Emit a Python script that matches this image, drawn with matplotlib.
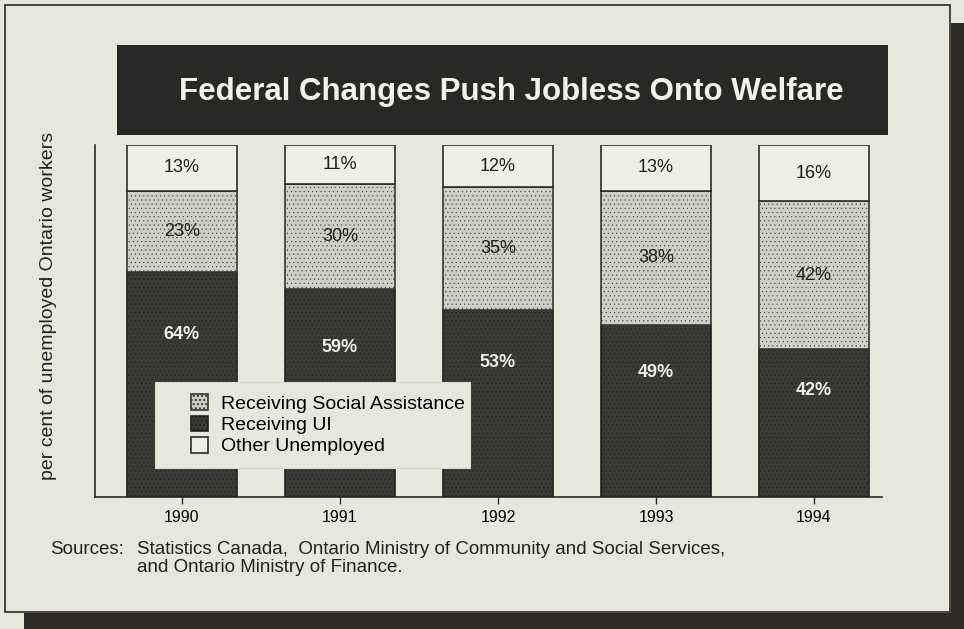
import numpy as np
import matplotlib.pyplot as plt
from matplotlib.patches import Rectangle

# Share of unemployed Ontario workers by status, per cent
years = ['1990', '1991', '1992', '1993', '1994']
receiving_ui = [64, 59, 53, 49, 42]
social_assistance = [23, 30, 35, 38, 42]
other_unemployed = [13, 11, 12, 13, 16]

cream = '#e7e8dc'
dark = '#3b3a37'
light = '#cfd0c6'
white = '#efefe7'
ink = '#2a2826'

plt.rcParams['font.family'] = ['Liberation Sans', 'DejaVu Sans']
plt.rcParams['hatch.color'] = '#6a6a66'

fig = plt.figure(figsize=(9.64, 6.29), dpi=100)
fig.patch.set_facecolor(cream)

W, H = 964, 629

def fbox(x0, y0, x1, y1, **kw):
    # rectangle in pixel coordinates measured from the top left
    r = Rectangle((x0 / W, 1 - y1 / H), (x1 - x0) / W, (y1 - y0) / H,
                  transform=fig.transFigure, **kw)
    fig.patches.append(r)
    return r

# dark surround of the page and the panel border
fbox(951, 23, 964, 629, facecolor='#2f2b28', edgecolor='none')
fbox(24, 613, 964, 629, facecolor='#2f2b28', edgecolor='none')
fbox(5, 5, 950, 612, facecolor='none', edgecolor='#3a3836', linewidth=1.3)

# title banner
fbox(117, 45, 888, 135, facecolor=ink, edgecolor='none')
fig.text(511 / W, 1 - 92 / H, 'Federal Changes Push Jobless Onto Welfare',
         color='#f2f2ec', fontsize=22.5, fontweight='bold', ha='center', va='center')

ax = fig.add_axes([95 / W, 1 - 497 / H, (882 - 95) / W, (497 - 145) / H])
ax.set_facecolor('none')

x = np.arange(len(years))
ui = np.array(receiving_ui)
sa = np.array(social_assistance)
oth = np.array(other_unemployed)
width = 0.70

b1 = ax.bar(x, ui, width, color=dark, edgecolor='#222120', linewidth=1.2,
            hatch='....', label='Receiving UI')
b2 = ax.bar(x, sa, width, bottom=ui, color=light, edgecolor='#3a3836', linewidth=1.2,
            hatch='....', label='Receiving Social Assistance')
b3 = ax.bar(x, oth, width, bottom=ui + sa, color=white, edgecolor='#2e2c2a', linewidth=1.2,
            label='Other Unemployed')
for b in b1:
    b.set_hatch_linewidth(0.4)
for b in b2:
    b.set_hatch_linewidth(0.3)

# percentage labels in each segment
for i in range(len(years)):
    ax.text(x[i], ui[i] * 0.72, f'{ui[i]}%', color='#f0f0ea', fontsize=13,
            fontweight='bold', ha='center', va='center')
    ax.text(x[i], ui[i] + sa[i] / 2, f'{sa[i]}%', color='#1e1e1c', fontsize=13,
            ha='center', va='center')
    ax.text(x[i], ui[i] + sa[i] + oth[i] / 2, f'{oth[i]}%', color='#1e1e1c', fontsize=13,
            ha='center', va='center')

ax.set_xlim(-0.55, 4.43)
ax.set_ylim(0, 100)
ax.spines['top'].set_visible(False)
ax.spines['right'].set_visible(False)
ax.spines['left'].set_color('#2a2826')
ax.spines['bottom'].set_color('#2a2826')
ax.spines['left'].set_linewidth(1.2)
ax.spines['bottom'].set_linewidth(1.2)
ax.set_yticks([])
ax.set_xticks(x)
ax.set_xticklabels(years, fontsize=11.5)
ax.tick_params(axis='x', length=5, width=1, color='#2a2826', pad=4)

# vertical axis caption
fig.text(49 / W, 1 - 306 / H, 'per cent of unemployed Ontario workers', fontsize=14,
         rotation=90, ha='center', va='center', color='#222')

# legend panel over the first bars
ax.add_patch(Rectangle((0.076, 0.082), 0.40, 0.245, transform=ax.transAxes,
                       facecolor=cream, edgecolor='#d8d9cc', linewidth=0.8, zorder=3))
leg = ax.legend([b2[0], b1[0], b3[0]],
                ['Receiving Social Assistance', 'Receiving UI', 'Other Unemployed'],
                loc='center left', bbox_to_anchor=(0.11, 0.205), frameon=False,
                fontsize=14, handlelength=0.85, handleheight=0.85, handletextpad=0.7,
                labelspacing=0.15, borderpad=0)
leg.set_zorder(4)

src_font = dict(fontsize=13.5, va='top', color='#222')
fig.text(50 / W, 1 - 541 / H, 'Sources:', **src_font)
fig.text(137 / W, 1 - 541 / H,
         'Statistics Canada,  Ontario Ministry of Community and Social Services,\n'
         'and Ontario Ministry of Finance.',
         linespacing=1.05, **src_font)

fig.savefig('out.png', dpi=100, facecolor=fig.get_facecolor())
